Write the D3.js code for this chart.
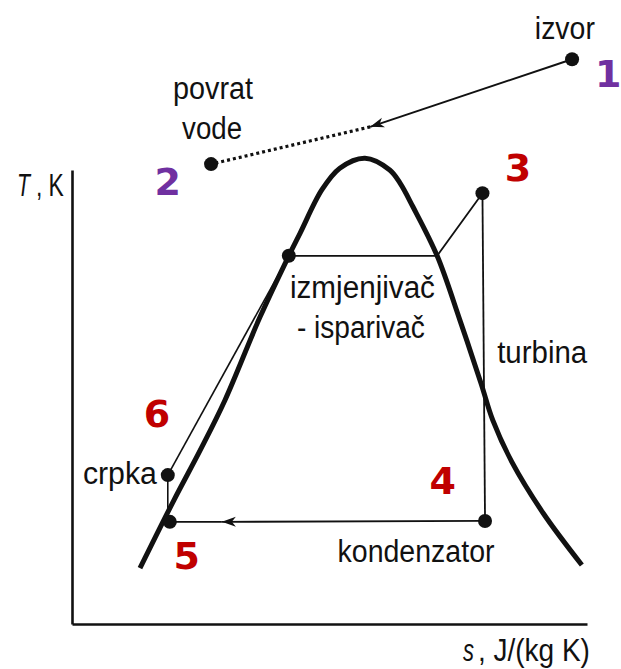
<!DOCTYPE html>
<html lang="hr">
<head>
<meta charset="UTF-8">
<title>T-s dijagram</title>
<style>
    body { margin: 0; background: #fff; }
    svg { display: block; }
    .lbl { font-family: "Liberation Sans Narrow", "Liberation Sans", Arial, sans-serif; font-size: 31px; fill: #111; }
    .num { font-family: "DejaVu Sans", Verdana, sans-serif; font-weight: bold; font-size: 38px; }
    .axis path { stroke: #111; stroke-width: 2.6; }
</style>
</head>
<body>
<div id="chart"></div>
<script src="https://d3js.org/d3.v7.min.js"></script>
<script>
// saturation dome, (s, T) in arbitrary units
const dome = [[1.32,1.23],[1.98,2.73],[2.49,3.83],[2.97,4.93],[3.65,6.76],[4.21,8.11],[4.43,8.61],
    [4.85,9.56],[5.20,10.04],[5.69,10.26],[6.17,10.0],[6.37,9.71],[6.62,9.19],[7.09,8.11],
    [7.53,6.70],[7.94,5.31],[8.17,4.49],[8.54,3.57],[9.15,2.44],[9.90,1.30]];

// cycle states
const pts = {
    p1: [9.71, 12.44],   // izvor
    p2: [2.70, 10.13],   // povrat vode
    p3: [7.97, 9.49],
    p4: [8.02, 2.27],
    p5: [1.90, 2.25],
    p6: [1.86, 3.28],
    sat: [4.21, 8.11],   // saturated liquid on dome
    vap: [7.09, 8.11]    // saturated vapour on dome
};
const brineArrowTip = [5.79, 10.95];
const condArrowTip = [2.91, 2.25];
const pumpFoot = [1.86, 2.47];

// text labels: [text, s, T, width]
const labels = [
    ["izvor", 9.57, 13.13, 60],
    ["povrat", 2.74, 11.81, 80],
    ["vode", 2.72, 10.93, 60],
    ["izmjenjivač", 5.64, 7.42, 145],
    ["- isparivač", 5.61, 6.54, 128],
    ["turbina", 9.13, 5.99, 90],
    ["crpka", 0.93, 3.33, 74],
    ["kondenzator", 6.68, 1.61, 157]
];
// state numbers: [text, s, T, colour]
const numbers = [
    ["1", 10.41, 12.14, "#7030A0"],
    ["2", 1.86, 9.74, "#7030A0"],
    ["3", 8.66, 10.07, "#C00000"],
    ["4", 7.20, 3.17, "#C00000"],
    ["5", 2.23, 1.52, "#C00000"],
    ["6", 1.65, 4.65, "#C00000"]
];

const width = 621, height = 669;
const x = d3.scaleLinear().domain([0, 10]).range([72, 587]);
const y = d3.scaleLinear().domain([0, 10]).range([624, 170]);

const svg = d3.select("#chart").append("svg")
    .attr("width", width)
    .attr("height", height);

const defs = svg.append("defs");
defs.append("marker")
    .attr("id", "arr")
    .attr("markerUnits", "userSpaceOnUse")
    .attr("markerWidth", 20).attr("markerHeight", 20)
    .attr("viewBox", "-16 -8 20 16")
    .attr("refX", 0).attr("refY", 0)
    .attr("orient", "auto")
    .append("path")
    .attr("d", "M0,0 L-14,-5 L-10,0 L-14,5 Z")
    .attr("fill", "#111");

// axes without ticks
svg.append("g").attr("class", "axis")
    .attr("transform", `translate(0,${y(0)})`)
    .call(d3.axisBottom(x).ticks(0).tickSizeOuter(0));
svg.append("g").attr("class", "axis")
    .attr("transform", `translate(${x(0)},0)`)
    .call(d3.axisLeft(y).ticks(0).tickSizeOuter(0));

// dome
const curve = d3.line().x(d => x(d[0])).y(d => y(d[1])).curve(d3.curveCatmullRom.alpha(0.5));
svg.append("path")
    .datum(dome)
    .attr("d", curve)
    .attr("fill", "none")
    .attr("stroke", "#111")
    .attr("stroke-width", 5);

const straight = d3.line().x(d => x(d[0])).y(d => y(d[1]));

function seg(data, w, dash, arrow) {
    const p = svg.append("path")
        .datum(data)
        .attr("d", straight)
        .attr("fill", "none")
        .attr("stroke", "#111")
        .attr("stroke-width", w);
    if (dash) p.attr("stroke-dasharray", dash);
    if (arrow) p.attr("marker-end", "url(#arr)");
    return p;
}

// geothermal brine: izvor -> povrat vode
seg([pts.p1, brineArrowTip], 2, null, true);
seg([brineArrowTip, pts.p2], 3.2, "3,3", false);

// organic cycle
seg([pts.p6, pts.sat], 1.6);
seg([pts.sat, pts.vap, pts.p3], 1.8);
seg([pts.p3, pts.p4], 1.8);
seg([pts.p4, condArrowTip], 1.8, null, true);
seg([condArrowTip, pts.p5], 1.8);
seg([pts.p6, pumpFoot], 1.6);

// state dots
svg.append("g").selectAll("circle")
    .data([pts.p1, pts.p2, pts.p3, pts.p4, pts.p5, pts.p6, pts.sat])
    .enter().append("circle")
    .attr("cx", d => x(d[0]))
    .attr("cy", d => y(d[1]))
    .attr("r", 7)
    .attr("fill", "#111");

// text labels
svg.append("g").selectAll("text")
    .data(labels)
    .enter().append("text")
    .attr("class", "lbl")
    .attr("x", d => x(d[1]))
    .attr("y", d => y(d[2]))
    .attr("dy", "0.36em")
    .attr("text-anchor", "middle")
    .attr("textLength", d => d[3])
    .attr("lengthAdjust", "spacingAndGlyphs")
    .text(d => d[0]);

// axis titles (italic symbol + unit as separate texts)
function axisTitle(sym, unit, s0, t0, wSym, wUnit, gap) {
    svg.append("text").attr("class", "lbl")
        .attr("x", x(s0)).attr("y", y(t0)).attr("dy", "0.36em")
        .style("font-style", "italic")
        .attr("textLength", wSym).attr("lengthAdjust", "spacingAndGlyphs")
        .text(sym);
    svg.append("text").attr("class", "lbl")
        .attr("x", x(s0) + wSym + gap).attr("y", y(t0)).attr("dy", "0.36em")
        .attr("textLength", wUnit).attr("lengthAdjust", "spacingAndGlyphs")
        .text(unit);
}
axisTitle("T", ", K", -1.07, 9.67, 13, 28, 6);
axisTitle("s", ", J/(kg K)", 7.59, -0.57, 11, 112, 4);

// state numbers
svg.append("g").selectAll("text")
    .data(numbers)
    .enter().append("text")
    .attr("class", "num")
    .attr("x", d => x(d[1]))
    .attr("y", d => y(d[2]))
    .attr("dy", "0.36em")
    .attr("text-anchor", "middle")
    .attr("fill", d => d[3])
    .text(d => d[0]);
</script>
</body>
</html>
